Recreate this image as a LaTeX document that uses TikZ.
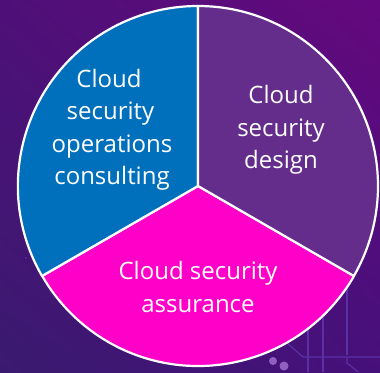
\documentclass[tikz,border=0pt]{standalone}
\usetikzlibrary{shadings}
\usepackage{fontspec}
\setmainfont{Open Sans}
\definecolor{slblue}{HTML}{0070BD}
\definecolor{slpurple}{HTML}{642D8C}
\definecolor{slpink}{HTML}{FF00C8}
\definecolor{bgtl}{HTML}{4E1078}
\definecolor{bgtr}{HTML}{64087E}
\definecolor{bgbl}{HTML}{3A1A70}
\definecolor{bgbr}{HTML}{46107A}
\definecolor{circuit}{HTML}{5A30A6}
\definecolor{dotc}{HTML}{9060C0}
\tikzset{
  slice/.style={draw=white,line width=2.2pt,line join=round},
  lbl/.style={text=white,align=center,font=\fontsize{24}{32.5}\selectfont,inner sep=0pt},
  trace/.style={draw=circuit,line width=1.2pt}
}
\begin{document}
\begin{tikzpicture}[x=1pt,y=1pt]
\useasboundingbox (0,0) rectangle (380,372);
\shade[upper left=bgtl,upper right=bgtr,lower left=bgbl,lower right=bgbr] (0,0) rectangle (380,372);
% circuit traces
\draw[trace] (308,0) -- (308,72);
\draw[trace] (323,0) -- (323,72);
\draw[trace] (347,17) -- (347,95);
\draw[trace] (287,29) -- (303,15) -- (380,15);
\draw[trace] (347,15) -- (347,9) -- (358,0);
\fill[dotc] (273,11) circle (4);
\fill[dotc] (284,6) circle (4.5);
\fill[circuit] (26,114) circle (1);
% pie
\coordinate (c) at (198,186);
\def\rr{180}
\filldraw[slice,fill=slpink] (c) -- (354,96) arc[start angle=-30,end angle=-150,radius=\rr] -- cycle;
\filldraw[slice,fill=slblue] (c) -- (42,96) arc[start angle=-150,end angle=-270,radius=\rr] -- cycle;
\filldraw[slice,fill=slpurple] (c) -- (198,366) arc[start angle=90,end angle=-30,radius=\rr] -- cycle;
\node[lbl] (a) at (281,242) {Cloud\\security\\design};
\node[lbl] (b) at (112,242) {Cloud\kern6pt\\security\kern3pt\\operations\\consulting};
\node[lbl] (d) at (198,85) {Cloud security\\assurance};
\end{tikzpicture}
\end{document}
